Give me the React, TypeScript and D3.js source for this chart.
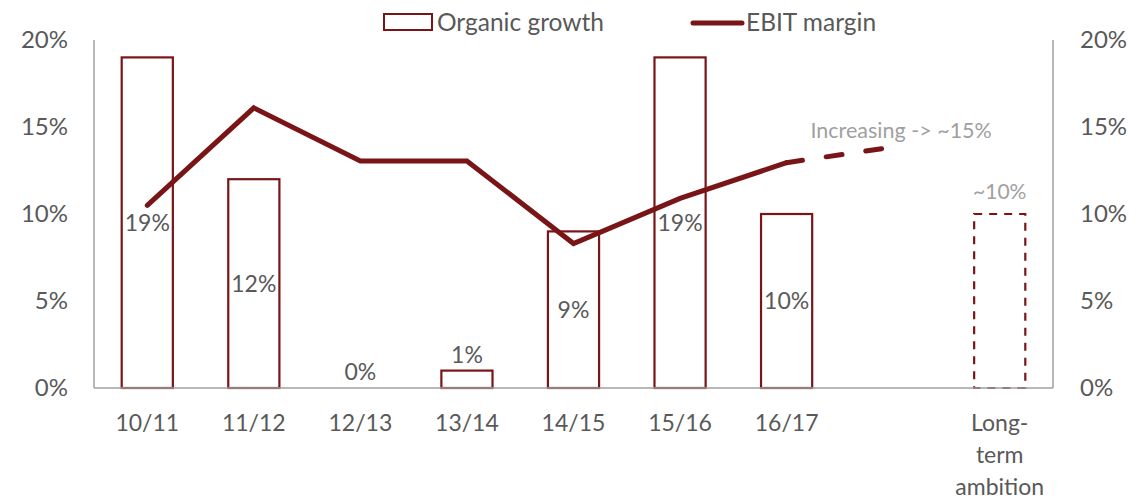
import React from "react";
import * as d3 from "d3";

const categories = ["10/11", "11/12", "12/13", "13/14", "14/15", "15/16", "16/17", "", "Long-term ambition"];
const organicGrowth = [19, 12, 0, 1, 9, 19, 10, null, 10];
const organicLabels = ["19%", "12%", "0%", "1%", "9%", "19%", "10%", "", "~10%"];
const ebitMargin = [10.5, 16.1, 13.05, 13.05, 8.3, 10.9, 12.95];
const ebitOutlook = [12.95, 13.85];
const yTicks = [0, 5, 10, 15, 20];

const W = 1145;
const H = 501;
const M = { left: 94, right: 1053, top: 40, bottom: 388 };
const RED = "#7A1517";
const TXT = "#595959";
const GRAY = "#A0A0A0";
const FONT = "Lato, 'Open Sans', sans-serif";

export default function App() {
  const x = d3.scaleBand<number>().domain(d3.range(categories.length)).range([M.left, M.right]).paddingInner(0.52).paddingOuter(0.26);
  const y = d3.scaleLinear().domain([0, 20]).range([M.bottom, M.top]);
  const cx = (i: number) => (x(i) as number) + x.bandwidth() / 2;
  const line = d3.line<number>().x((_, i) => cx(i)).y((d) => y(d));
  const outlook = d3.line<number>().x((_, i) => cx(i + 6)).y((d) => y(d));

  return (
    <svg width={W} height={H} style={{ position: "absolute", left: 0, top: 0 }} fontFamily={FONT}>
      <rect width={W} height={H} fill="#fff" />
      {/* axes */}
      <line x1={M.left} x2={M.left} y1={M.top} y2={M.bottom} stroke={GRAY} strokeWidth={1.5} />
      <line x1={M.right} x2={M.right} y1={M.top} y2={M.bottom} stroke={GRAY} strokeWidth={1.5} />
      {yTicks.map((t) => (
        <g key={t}>
          <text x={68} y={y(t)} dy="0.35em" textAnchor="end" fontSize={24} fill={TXT}>{t}%</text>
          <text x={1080} y={y(t)} dy="0.35em" textAnchor="start" fontSize={24} fill={TXT}>{t}%</text>
        </g>
      ))}
      {/* bars */}
      {organicGrowth.map((v, i) => {
        if (v === null || v === 0) return null;
        const dashed = i === categories.length - 1;
        return (
          <rect key={i} x={x(i)} y={y(v)} width={x.bandwidth()} height={y(0) - y(v)} fill="none" stroke={RED} strokeWidth={2.2} strokeDasharray={dashed ? "8,7" : undefined} />
        );
      })}
      <line x1={M.left} x2={M.right} y1={M.bottom} y2={M.bottom} stroke={GRAY} strokeWidth={1.5} />
      {/* line */}
      <path d={line(ebitMargin) as string} fill="none" stroke={RED} strokeWidth={5} strokeLinejoin="miter" strokeLinecap="round" />
      <path d={outlook(ebitOutlook) as string} fill="none" stroke={RED} strokeWidth={5} strokeLinecap="round" strokeDasharray="16,24" />
      {/* bar labels */}
      {organicGrowth.map((v, i) => {
        if (v === null) return null;
        const last = i === categories.length - 1;
        let ly: number;
        if (last) ly = y(v) - 22;
        else if (v < 5) ly = y(v) - 16;
        else ly = y(v / 2);
        return (
          <text key={i} x={cx(i)} y={ly} dy="0.35em" textAnchor="middle" fontSize={last ? 21 : 23} fill={last ? GRAY : TXT}>{organicLabels[i]}</text>
        );
      })}
      <text x={cx(7) + 8} y={y(14.8)} dy="0.35em" textAnchor="middle" fontSize={21.5} fill={GRAY}>{"Increasing -> ~15%"}</text>
      {/* category labels */}
      {categories.map((c, i) => {
        const words = c === "Long-term ambition" ? ["Long-", "term", "ambition"] : [c];
        return (
          <text key={i} x={cx(i)} y={423} textAnchor="middle" fontSize={23} fill={TXT}>
            {words.map((w, j) => (
              <tspan key={j} x={cx(i)} y={423 + j * 32} dy="0.35em">{w}</tspan>
            ))}
          </text>
        );
      })}
      {/* legend */}
      <rect x={384} y={14} width={48} height={16} fill="none" stroke={RED} strokeWidth={2} />
      <text x={437} y={22} dy="0.35em" fontSize={24.5} fill={TXT}>Organic growth</text>
      <line x1={693} x2={742} y1={23} y2={23} stroke={RED} strokeWidth={5} strokeLinecap="round" />
      <text x={746} y={22} dy="0.35em" fontSize={24.5} fill={TXT}>EBIT margin</text>
    </svg>
  );
}
